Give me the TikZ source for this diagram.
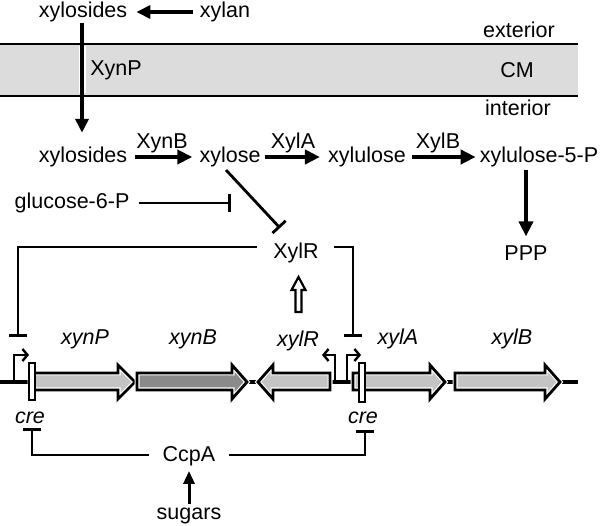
\documentclass[tikz,border=0pt]{standalone}
\usepackage{fontspec}
\setmainfont{Liberation Sans}
\usetikzlibrary{arrows.meta}
\definecolor{memb}{HTML}{DCDCDC}
\definecolor{genelight}{HTML}{C4C4C4}
\definecolor{genedark}{HTML}{8A8A8A}
\newcommand\mygene[5]{% #1 fill, #2 start x, #3 head x, #4 tip x
  \fill[#1] (#2,373) -- (#3,373) -- (#3,365) -- (#4,382) -- (#3,399) -- (#3,390) -- (#2,390) -- cycle;
  \draw[white,line width=5pt,line join=miter] (#2,373) -- (#3,373) -- (#3,365) -- (#4,382) -- (#3,399) -- (#3,390) -- (#2,390) -- cycle;
  \draw[black,line width=2.8pt,line join=miter] (#2,373) -- (#3,373) -- (#3,365) -- (#4,382) -- (#3,399) -- (#3,390) -- (#2,390) -- cycle;
  \coordinate (#5) at ({(#2+#4)/2},382);}
\begin{document}
\begin{tikzpicture}[x=1pt,y=-1pt,
  lbl/.style={inner sep=1pt, font=\fontsize{21.5}{24}\selectfont},
  glbl/.style={inner sep=1pt, font=\fontsize{21.5}{24}\selectfont\itshape},
  conv/.style={line width=4.5pt, -{Triangle[length=15,width=14]}},
  thinarr/.style={line width=3.8pt, -{Triangle[length=14,width=13]}},
  inhib/.style={line width=2.8pt, -{Bar[width=18,line width=2.8pt]}},
  prom/.style={line width=2.4pt, -{Straight Barb[length=5,width=12,line width=2.4pt]}}
]
\useasboundingbox (0,0) rectangle (600,526);

% membrane
\fill[memb] (0,44) rectangle (578,96);
\draw[line width=2.6pt] (0,44) -- (578,44);
\draw[line width=2.6pt] (0,96) -- (578,96);

% labels
\node[lbl] (xs1) at (83,12) {xylosides};
\node[lbl] (xylan) at (225,12) {xylan};
\node[lbl] (ext) at (519,30) {exterior};
\node[lbl] (xynPp) at (116,70) {XynP};
\node[lbl] (cm) at (517,70) {CM};
\node[lbl] (int) at (518,108) {interior};
\node[lbl] (xs2) at (83,157) {xylosides};
\node[lbl] (xynBp) at (162,143) {XynB};
\node[lbl] (xyl) at (230,157) {xylose};
\node[lbl] (xylAp) at (293,143) {XylA};
\node[lbl] (xlu) at (367,157) {xylulose};
\node[lbl] (xylBp) at (438,143) {XylB};
\node[lbl] (x5p) at (539,157) {xylulose-5-P};
\node[lbl] (ppp) at (526,253) {PPP};
\node[lbl] (g6p) at (72,203) {glucose-6-P};
\node[lbl] (xylR) at (296,253) {XylR};
\node[glbl] (gxynP) at (85,339) {xynP};
\node[glbl] (gxynB) at (193,339) {xynB};
\node[glbl] (gxylR) at (298,341) {xylR};
\node[glbl] (gxylA) at (398,339) {xylA};
\node[glbl] (gxylB) at (512,339) {xylB};
\node[glbl] (cre1) at (30,418) {cre};
\node[glbl] (cre2) at (363,418) {cre};
\node[lbl] (ccpa) at (189,456) {CcpA};
\node[lbl] (sugars) at (189,516) {sugars};

% top arrows
\draw[thinarr, shorten <=6pt, shorten >=8pt] (xylan.west) -- (xs1.east);
\draw[white, line width=7pt] (82,46.5) -- (82,93.5);
\draw[thinarr, shorten <=0pt, shorten >=13pt] (xs1.south -| 82,0) -- (xs2.north -| 82,0);

% pathway
\draw[conv, shorten <=7pt, shorten >=6pt] (xs2.east) -- (xyl.west);
\draw[conv, shorten <=3pt, shorten >=7pt] (xyl.east) -- (xlu.west);
\draw[conv, shorten <=5pt, shorten >=3pt] (xlu.east) -- (x5p.west);
\draw[conv, shorten <=2pt, shorten >=8pt] (x5p.south -| ppp) -- (ppp.north);

% inhibitions
\coordinate (g6pEnd) at (231,203);
\draw[inhib, shorten <=8pt] (g6p.east) -- (g6pEnd);
\coordinate (xylStart) at (226,170);
\coordinate (xylREnd) at (280,228);
\draw[inhib] (xylStart) -- (xylREnd);
\coordinate (pL) at (18,337);
\coordinate (pR) at (353,337);
\draw[inhib] ([xshift=-15pt, yshift=6pt]xylR.west) -| (pL);
\draw[inhib] ([xshift=14pt, yshift=6pt]xylR.east) -| (pR);

% hollow arrow xylR gene -> XylR
\draw[line width=2.2pt, fill=white, line join=miter]
  (295.5,312) -- (301.5,312) -- (301.5,290) -- (305.5,290) -- (298.5,277) -- (291.5,290) -- (295.5,290) -- cycle;

% gene row
\draw[line width=4.5pt] (0,382) -- (578,382);
\mygene{genelight}{30}{118}{135}{gP}
\mygene{genedark}{137}{232}{247}{gB}
\mygene{genelight}{330}{273}{258}{gR}
\mygene{genelight}{353}{430}{445}{gA}
\mygene{genelight}{455}{545}{560}{gBB}

% cre boxes
\draw[line width=2pt, fill=white] (29,363) rectangle (34.5,400);
\draw[line width=2pt, fill=white] (359,363) rectangle (365,402);

% promoters
\draw[prom] (14,382) -- (14,355) -- (29,355);
\draw[prom] (335,382) -- (335,355) -- (322,355);
\draw[prom] (347,382) -- (347,355) -- (361,355);

% CcpA regulation
\coordinate (cL) at (32,428);
\coordinate (cR) at (365,430);
\draw[inhib] ([xshift=-13pt, yshift=1pt]ccpa.west) -| (cL);
\draw[inhib] ([xshift=13pt, yshift=1pt]ccpa.east) -| (cR);
\draw[line width=3pt, -{Triangle[length=13,width=11]}, shorten <=3pt, shorten >=4pt] (sugars.north) -- (ccpa.south);
\end{tikzpicture}
\end{document}
